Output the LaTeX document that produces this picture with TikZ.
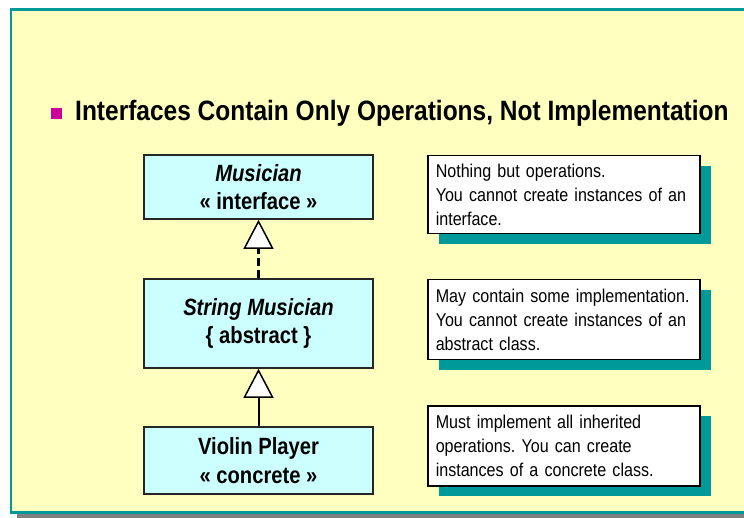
\documentclass[tikz,border=0pt]{standalone}
\usepackage{fontspec}
\setmainfont{Liberation Sans}
\newfontfamily\titlefont[FakeStretch=0.875]{Liberation Sans}
\newfontfamily\boxfont[FakeStretch=0.86]{Liberation Sans}
\newfontfamily\notefont[FakeStretch=0.87]{Liberation Sans}
\newcommand\notestyle{\notefont\fontsize{18.5}{24}\selectfont\frenchspacing\hyphenpenalty=10000\relax}
\definecolor{slideyellow}{RGB}{255,255,192}
\definecolor{slideteal}{RGB}{0,153,153}
\definecolor{classcyan}{RGB}{204,255,255}
\definecolor{bulletpink}{RGB}{204,0,153}
\definecolor{shadowgray}{RGB}{128,128,128}
\usetikzlibrary{arrows.meta,positioning,shadows}

\begin{document}
\begin{tikzpicture}[x=1pt, y=-1pt,
        classbox/.style={rectangle, draw=black!85, line width=1.6pt, fill=classcyan,
                         minimum width=229pt, inner sep=0pt, align=center,
                         font=\boxfont\bfseries\fontsize{23.5}{28.5}\selectfont},
        notebox/.style={rectangle, draw=black, line width=1.5pt, fill=white,
                        text width=256pt, inner xsep=8pt, inner ysep=0pt, align=left,
                        anchor=north west, font=\notestyle,
                        general shadow={shadow xshift=11pt, shadow yshift=-10pt, fill=slideteal}},
        inherit/.style={-{Triangle[fill=white, length=29pt, width=30pt, line width=1.5pt]},
                        line width=2pt}
      ]
        \useasboundingbox (0,0) rectangle (744,518);
        \fill[white] (0,0) rectangle (744,518);

        % Slide frame with shadow
        \fill[shadowgray] (17,513.5) rectangle (744,518);
        \draw[slideteal, line width=2.5pt, fill=slideyellow] (11,9.5) rectangle (746,512.5);

        % Heading
        \node[fill=bulletpink, minimum size=11pt, inner sep=0pt] (bullet) at (56.5,113.5) {};
        \node[anchor=base west, inner sep=0pt, font=\titlefont\bfseries\fontsize{28}{30}\selectfont]
          (title) at (75,121) {Interfaces Contain Only Operations, Not Implementation};

        % Class hierarchy
        \node[classbox, minimum height=64pt] (musician) at (258.5,187)
          {\textit{Musician}\\« interface »};
        \node[classbox, minimum height=89pt] (stringmus) at (258.5,323.5)
          {\textit{String Musician}\\\{ abstract \}};
        \node[classbox, minimum height=67pt] (violin) at (258.5,460.5)
          {Violin Player\\« concrete »};

        \draw[inherit, line width=3pt, dash pattern=on 8pt off 4pt] (stringmus) -- (musician);
        \draw[inherit] (violin) -- (stringmus);

        % Notes
        \node[notebox, minimum height=78pt] (note1) at (427,155)
          {Nothing but operations.\\You cannot create instances of an\\interface.};
        \node[notebox, minimum height=80pt] (note2) at (427,279)
          {May contain some implementation.\\You cannot create instances of an\\abstract class.};
        \node[notebox, minimum height=80pt] (note3) at (427,405)
          {Must implement all inherited\\operations. You can create\\instances of a concrete class.};
      \end{tikzpicture}
\end{document}
